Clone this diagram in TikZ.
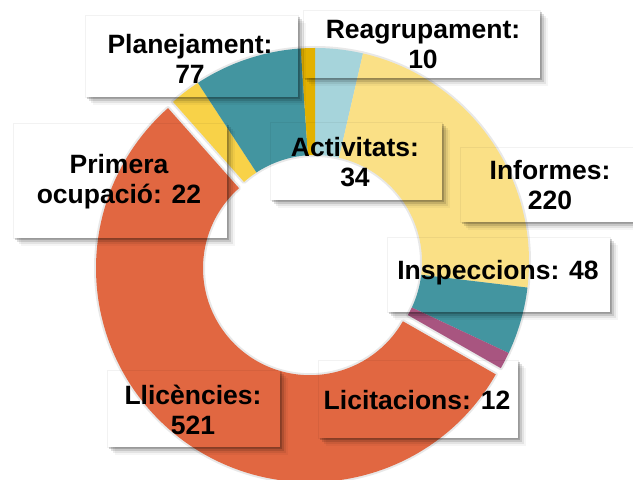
\documentclass[tikz,border=0pt]{standalone}
\usepackage{fontspec}
\setmainfont{Liberation Sans}
\usetikzlibrary{calc}
\definecolor{cOrange}{RGB}{225,103,65}
\definecolor{cYellowL}{RGB}{250,224,134}
\definecolor{cYellowS}{RGB}{248,210,72}
\definecolor{cTeal}{RGB}{67,149,160}
\definecolor{cLBlue}{RGB}{166,212,219}
\definecolor{cGold}{RGB}{226,177,0}
\definecolor{cPurple}{RGB}{168,85,128}
\def\Rout{214pt}
\def\Rin{107pt}
\newcommand\donutslice[5]{%
  \path[#1] ($(C)+(#4,#5)+(#2:\Rout)$) arc[start angle=#2, end angle=#3, radius=\Rout]
    -- ($(C)+(#4,#5)+(#3:\Rin)$) arc[start angle=#3, end angle=#2, radius=\Rin] -- cycle;}
\newcommand\boxshadow[1]{%
  \foreach \w/\o in {2pt/0.18,4pt/0.12,6pt/0.07,8pt/0.04}{%
    \fill[black,opacity=\o] ($(#1.south west)+(\w,0)$) rectangle ($(#1.south east)+(\w,-\w)$);
    \fill[black,opacity=\o] ($(#1.north east)+(0,-\w)$) rectangle ($(#1.south east)+(\w,0)$);
  }}
\tikzset{
  lbox/.style={draw=black, draw opacity=0.05, line width=0.6pt, inner sep=0pt},
  ltext/.style={font=\bfseries\fontsize{26.5}{30}\selectfont, align=center, inner sep=0pt, text=black},
  halo/.style={draw=black!9, fill=black!9, line width=4pt, line join=round},
}
\begin{document}
\begin{tikzpicture}[x=1pt,y=1pt]
\useasboundingbox (0,0) rectangle (633,480);
\fill[white] (0,0) rectangle (633,480);
\coordinate (C) at (315,218);
% halo
\donutslice{halo}{90}{77.034}{0pt}{0pt}
\donutslice{halo}{77.034}{-6.864}{0pt}{0pt}
\donutslice{halo}{-6.864}{-25.169}{0pt}{0pt}
\donutslice{halo}{-25.169}{-29.745}{0pt}{0pt}
\donutslice{halo}{-29.745}{-228.431}{-5pt}{-6.2pt}
\donutslice{halo}{-228.431}{-236.821}{0pt}{0pt}
\donutslice{halo}{-236.821}{-266.185}{0pt}{0pt}
\donutslice{halo}{-266.185}{-270}{0pt}{0pt}
% slices
\donutslice{fill=cLBlue}{90}{77.034}{0pt}{0pt}
\donutslice{fill=cYellowL}{77.034}{-6.864}{0pt}{0pt}
\donutslice{fill=cTeal}{-6.864}{-25.169}{0pt}{0pt}
\donutslice{fill=cPurple}{-25.169}{-29.745}{0pt}{0pt}
\donutslice{fill=cOrange}{-29.745}{-228.431}{-5pt}{-6.2pt}
\donutslice{fill=cYellowS}{-228.431}{-236.821}{0pt}{0pt}
\donutslice{fill=cTeal}{-236.821}{-266.185}{0pt}{0pt}
\donutslice{fill=cGold}{-266.185}{-270}{0pt}{0pt}
% label boxes
\node[lbox, minimum width=213pt, minimum height=82pt] (bPlan) at (191.5,424) {};
\node[lbox, minimum width=237pt, minimum height=68pt] (bReag) at (421.5,436) {};
\node[lbox, minimum width=172pt, minimum height=78pt] (bActi) at (356,319) {};
\node[lbox, minimum width=176pt, minimum height=75pt] (bInfo) at (548,295.5) {};
\node[lbox, minimum width=223pt, minimum height=75pt] (bInsp) at (498.5,205.5) {};
\node[lbox, minimum width=200pt, minimum height=78pt] (bLici) at (418,81) {};
\node[lbox, minimum width=173pt, minimum height=77pt] (bLlic) at (193.5,71.5) {};
\node[lbox, minimum width=214pt, minimum height=115pt] (bPrim) at (120,299.5) {};
\boxshadow{bPlan}
\boxshadow{bReag}
\boxshadow{bActi}
\boxshadow{bInfo}
\boxshadow{bInsp}
\boxshadow{bLici}
\boxshadow{bLlic}
\boxshadow{bPrim}
% texts
\node[ltext] (tPlan) at (190,421) {Planejament:\\77};
\node[ltext] (tReag) at (423,435) {Reagrupament:\\10};
\node[ltext] (tActi) at (355,318) {Activitats:\\34};
\node[ltext] (tInfo) at (550,295) {Informes:\\220};
\node[ltext] (tInsp) at (498,207) {Inspeccions: 48};
\node[ltext] (tLici) at (417,80) {Licitacions: 12};
\node[ltext] (tLlic) at (193,70) {Llicències:\\521};
\node[ltext] (tPrim) at (119,298) {Primera\\ocupació: 22};
\end{tikzpicture}
\end{document}
